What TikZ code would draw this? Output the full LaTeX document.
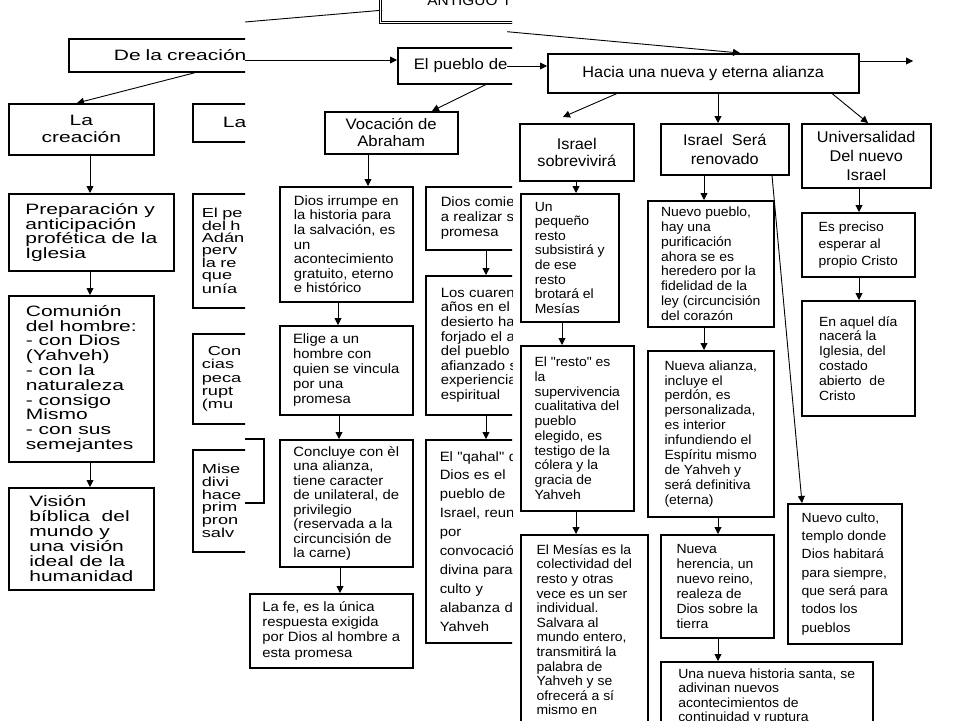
\documentclass[tikz,border=0pt]{standalone}
\usepackage{fontspec}
\setmainfont{Liberation Sans}
\newfontfamily\fuenteA{Liberation Sans}[FakeStretch=1.4]
\newfontfamily\fuenteB{Liberation Sans}[FakeStretch=1.1]
\newfontfamily\fuenteC{Liberation Sans}[FakeStretch=1.05]
\usepackage{tikz}
\usetikzlibrary{arrows.meta}

\begin{document}
\begin{tikzpicture}[
    x=1pt, y=-1pt,
    cajaA/.style={draw, line width=1.7pt, anchor=north west, align=left, font=\fuenteA\fontsize{15}{14.6}\selectfont},
    cajaB/.style={draw, line width=1.5pt, anchor=north west, align=left, font=\fuenteB\fontsize{13.5}{14.6}\selectfont},
    cajaC/.style={draw, line width=1.5pt, anchor=north west, align=left, font=\fuenteC\fontsize{13.3}{14.7}\selectfont},
    titB/.style={cajaB, align=center, font=\fuenteB\fontsize{15.2}{17}\selectfont},
    titC/.style={cajaC, align=center, font=\fuenteC\fontsize{15.5}{19}\selectfont},
    flecha/.style={line width=0.9pt, -{Triangle[width=7pt, length=7pt]}}
]
\fill[white] (0,0) rectangle (960,720);
\useasboundingbox (0,0) rectangle (960,720);

% primera hoja
\begin{scope}
\clip (0,0) rectangle (245,720);
\node[cajaA, minimum height=33pt, text width=240pt, inner xsep=45pt] (creaA) at (68,38) {De la creación};
\node[cajaA, align=center, minimum width=145pt, minimum height=51pt, font=\fuenteA\fontsize{15}{17}\selectfont] (creacion) at (8,103) {La\\creación};
\node[cajaA, minimum height=38pt, text width=150pt, inner xsep=30pt] (creaB) at (192,103) {La};
\node[cajaA, minimum width=165pt, minimum height=77pt] (prep) at (8,193) {Preparación y\\anticipación\\profética de la\\Iglesia};
\node[cajaA, minimum width=145pt, minimum height=166pt, font=\fuenteA\fontsize{15}{14.8}\selectfont] (comun) at (8,295) {Comunión\\del hombre:\\- con Dios\\(Yahveh)\\- con la\\naturaleza\\- consigo\\Mismo\\- con sus\\semejantes};
\node[cajaA, minimum width=145pt, minimum height=102pt, font=\fuenteA\fontsize{15}{15}\selectfont] (vision) at (8,487) {Visión\\bíblica\ \ del\\mundo y\\una visión\\ideal de la\\humanidad};
\node[cajaA, minimum height=114pt, text width=150pt, inner xsep=9pt, font=\fuenteA\fontsize{13}{12}\selectfont] (perdida) at (192,193) {El pe\\del h\\Adán\\perv\\la re\\que\\unía};
\node[cajaA, minimum height=90pt, text width=150pt, inner xsep=9pt, font=\fuenteA\fontsize{13}{13.3}\selectfont] (consec) at (192,333) {\hspace*{6pt}Con\\cias\\peca\\rupt\\(mu};
\node[cajaA, minimum height=102pt, text width=150pt, inner xsep=9pt, font=\fuenteA\fontsize{13}{12.8}\selectfont] (miseric) at (192,449) {Mise\\divi\\hace\\prim\\pron\\salv};

\draw[flecha] ([xshift=127pt]creaA.south west) -- ([xshift=69pt]creacion.north west);
\draw[flecha] ([xshift=82pt]creacion.south west) -- ([xshift=82pt]prep.north west);
\draw[flecha] ([xshift=82pt]prep.south west) -- ([xshift=82pt]comun.north west);
\draw[flecha] ([xshift=82pt]comun.south west) -- ([xshift=82pt]vision.north west);
\end{scope}

% segunda hoja
\begin{scope}
\clip (245,0) rectangle (512,720);
\node[cajaB, double, double distance=1.6pt, line width=0.8pt, minimum height=44pt, text width=200pt, inner xsep=47pt, font=\fuenteB\fontsize{14}{16}\selectfont] (antiguo) at (380,-22) {ANTIGUO T};
\coordinate (ladoA) at (238,22.6);
\draw[line width=0.9pt] ([yshift=-10pt]antiguo.west) -- (ladoA);

\node[cajaB, minimum height=36pt, text width=180pt, inner xsep=16pt, font=\fuenteB\fontsize{15.2}{17}\selectfont] (pueblo) at (397,47) {El pueblo de};
\coordinate (ladoB) at (240,60);
\draw[flecha] (ladoB) -- (pueblo.west |- ladoB);

\node[titB, minimum width=133pt, minimum height=42pt] (vocacion) at (324,111) {Vocación de\\Abraham};
\node[cajaB, minimum width=133pt, minimum height=115pt] (irrumpe) at (279,186) {Dios irrumpe en\\la historia para\\la salvación, es\\un\\acontecimiento\\gratuito, eterno\\e histórico};
\node[cajaB, minimum width=133pt, minimum height=89pt, font=\fuenteB\fontsize{13.5}{15}\selectfont] (elige) at (279,325) {Elige a un\\hombre con\\quien se vincula\\por una\\promesa};
\node[cajaB, minimum width=133pt, minimum height=127pt, font=\fuenteB\fontsize{13.5}{14.5}\selectfont] (concluye) at (279,439) {Concluye con èl\\una alianza,\\tiene caracter\\de unilateral, de\\privilegio\\(reservada a la\\circuncisión de\\la carne)};
\node[cajaB, minimum width=163pt, minimum height=74pt, font=\fuenteB\fontsize{13.5}{15.3}\selectfont] (lafe) at (249,593) {La fe, es la única\\respuesta exigida\\por Dios al hombre a\\esta promesa};

\node[cajaB, minimum height=63pt, text width=150pt, inner xsep=15pt, font=\fuenteB\fontsize{13.5}{15}\selectfont] (comienza) at (425,186) {Dios comie\\a realizar s\\promesa};
\node[cajaB, minimum height=139pt, text width=150pt, inner xsep=15pt] (cuarenta) at (425,275) {Los cuaren\\años en el\\desierto ha\\forjado el a\\del pueblo\\afianzado s\\experiencia\\espiritual};
\node[cajaB, minimum height=203pt, text width=150pt, inner xsep=14pt, font=\fuenteB\fontsize{13.5}{18.9}\selectfont] (qahal) at (425,439) {El "qahal" d\\Dios es el\\pueblo de\\Israel, reun\\por\\convocació\\divina para\\culto y\\alabanza d\\Yahveh};
\draw[line width=1.5pt] (230,439) rectangle (264,503);

\draw[flecha] ([xshift=89pt]pueblo.south west) -- ([xshift=108pt]vocacion.north west);
\draw[flecha] ([xshift=44pt]vocacion.south west) -- ([xshift=89pt]irrumpe.north west);
\draw[flecha] ([xshift=59pt]irrumpe.south west) -- ([xshift=59pt]elige.north west);
\draw[flecha] ([xshift=60pt]elige.south west) -- ([xshift=60pt]concluye.north west);
\draw[flecha] ([xshift=61pt]concluye.south west) -- ([xshift=91pt]lafe.north west);
\draw[flecha] ([xshift=61pt]comienza.south west) -- ([xshift=61pt]cuarenta.north west);
\draw[flecha] ([xshift=61pt]cuarenta.south west) -- ([xshift=61pt]qahal.north west);
\end{scope}

% tercera hoja
\begin{scope}
\clip (507,0) rectangle (960,720);
\node[titC, minimum width=311pt, minimum height=39pt] (hacia) at (547,53) {Hacia una nueva y eterna alianza};
\coordinate (ladoC) at (507,31.7);
\coordinate (ladoD) at (505,66);
\coordinate (sigue) at (913,61);
\draw[flecha] (ladoC) -- ([xshift=193pt]hacia.north west);
\draw[flecha] (ladoD) -- (hacia.west |- ladoD);
\draw[flecha] (hacia.east |- sigue) -- (sigue);

\node[titC, minimum width=114pt, minimum height=57pt, font=\fuenteC\fontsize{15.5}{17}\selectfont] (sobrev) at (519,123) {Israel\\sobrevivirá};
\node[titC, minimum width=128pt, minimum height=51pt] (renov) at (660,123) {Israel\ \ Será\\renovado};
\node[titC, minimum width=129pt, minimum height=64pt] (univ) at (801,123) {Universalidad\\Del nuevo\\Israel};

\node[cajaC, minimum width=98pt, minimum height=128pt, font=\fuenteC\fontsize{13.3}{14.6}\selectfont] (pequeno) at (520,193) {Un\\pequeño\\resto\\subsistirá y\\de ese\\resto\\brotará el\\Mesías};
\node[cajaC, minimum width=113pt, minimum height=165pt] (resto) at (520,345) {El "resto" es\\la\\supervivencia\\cualitativa del\\pueblo\\elegido, es\\testigo de la\\cólera y la\\gracia de\\Yahveh};
\node[cajaC, minimum width=127pt, minimum height=190pt, font=\fuenteC\fontsize{13.3}{14.6}\selectfont] (mesias) at (520,534) {El Mesías es la\\colectividad del\\resto y otras\\vece es un ser\\individual.\\Salvara al\\mundo entero,\\transmitirá la\\palabra de\\Yahveh y se\\ofrecerá a sí\\mismo en};

\node[cajaC, minimum width=126pt, minimum height=126pt, font=\fuenteC\fontsize{13.3}{14.9}\selectfont] (npueblo) at (647,200) {Nuevo pueblo,\\hay una\\purificación\\ahora se es\\heredero por la\\fidelidad de la\\ley (circuncisión\\del corazón};
\node[cajaC, minimum width=126pt, minimum height=166pt, font=\fuenteC\fontsize{13.3}{14.9}\selectfont] (nalianza) at (647,350) {Nueva alianza,\\incluye el\\perdón, es\\personalizada,\\es interior\\infundiendo el\\Espíritu mismo\\de Yahveh y\\será definitiva\\(eterna)};
\node[cajaC, minimum width=113pt, minimum height=103pt, font=\fuenteC\fontsize{13.3}{15}\selectfont] (nherencia) at (660,534) {Nueva\\herencia, un\\nuevo reino,\\realeza de\\Dios sobre la\\tierra};
\node[cajaC, minimum width=212pt, minimum height=70pt, font=\fuenteC\fontsize{13.3}{14.5}\selectfont] (historia) at (660,661) {Una nueva historia santa, se\\adivinan nuevos\\acontecimientos de\\continuidad y ruptura};

\node[cajaC, minimum width=113pt, minimum height=64pt, font=\fuenteC\fontsize{13.3}{17}\selectfont] (preciso) at (801,212) {Es preciso\\esperar al\\propio Cristo};
\node[cajaC, minimum width=113pt, minimum height=115pt, font=\fuenteC\fontsize{13.3}{14.8}\selectfont] (aquel) at (801,300) {En aquel día\\nacerá la\\Iglesia, del\\costado\\abierto\ \ de\\Cristo};
\node[cajaC, minimum width=114pt, minimum height=140pt, font=\fuenteC\fontsize{13.3}{18.3}\selectfont] (culto) at (787,503) {Nuevo culto,\\templo donde\\Dios habitará\\para siempre,\\que será para\\todos los\\pueblos};

\draw[flecha] ([xshift=70pt]hacia.south west) -- ([xshift=44pt, yshift=6pt]sobrev.north west);
\draw[flecha] ([xshift=171pt]hacia.south west) -- ([xshift=58pt]renov.north west);
\draw[flecha] ([xshift=285pt]hacia.south west) -- ([xshift=67pt]univ.north west);
\draw[flecha] ([xshift=57pt]sobrev.south west) -- ([xshift=56pt]pequeno.north west);
\draw[flecha] ([xshift=42pt]pequeno.south west) -- ([xshift=42pt]resto.north west);
\draw[flecha] ([xshift=56pt]resto.south west) -- ([xshift=56pt]mesias.north west);
\draw[flecha] ([xshift=44pt]renov.south west) -- ([xshift=57pt]npueblo.north west);
\draw[flecha] ([xshift=57pt]npueblo.south west) -- ([xshift=57pt]nalianza.north west);
\draw[flecha] ([xshift=71pt]nalianza.south west) -- ([xshift=58pt]nherencia.north west);
\draw[flecha] ([xshift=58pt]nherencia.south west) -- ([xshift=58pt]historia.north west);
\draw[flecha] ([xshift=112pt]renov.south west) -- ([xshift=15pt]culto.north west);
\draw[flecha] ([xshift=58pt]univ.south west) -- ([xshift=58pt]preciso.north west);
\draw[flecha] ([xshift=58pt]preciso.south west) -- ([xshift=58pt]aquel.north west);
\end{scope}
\end{tikzpicture}
\end{document}
